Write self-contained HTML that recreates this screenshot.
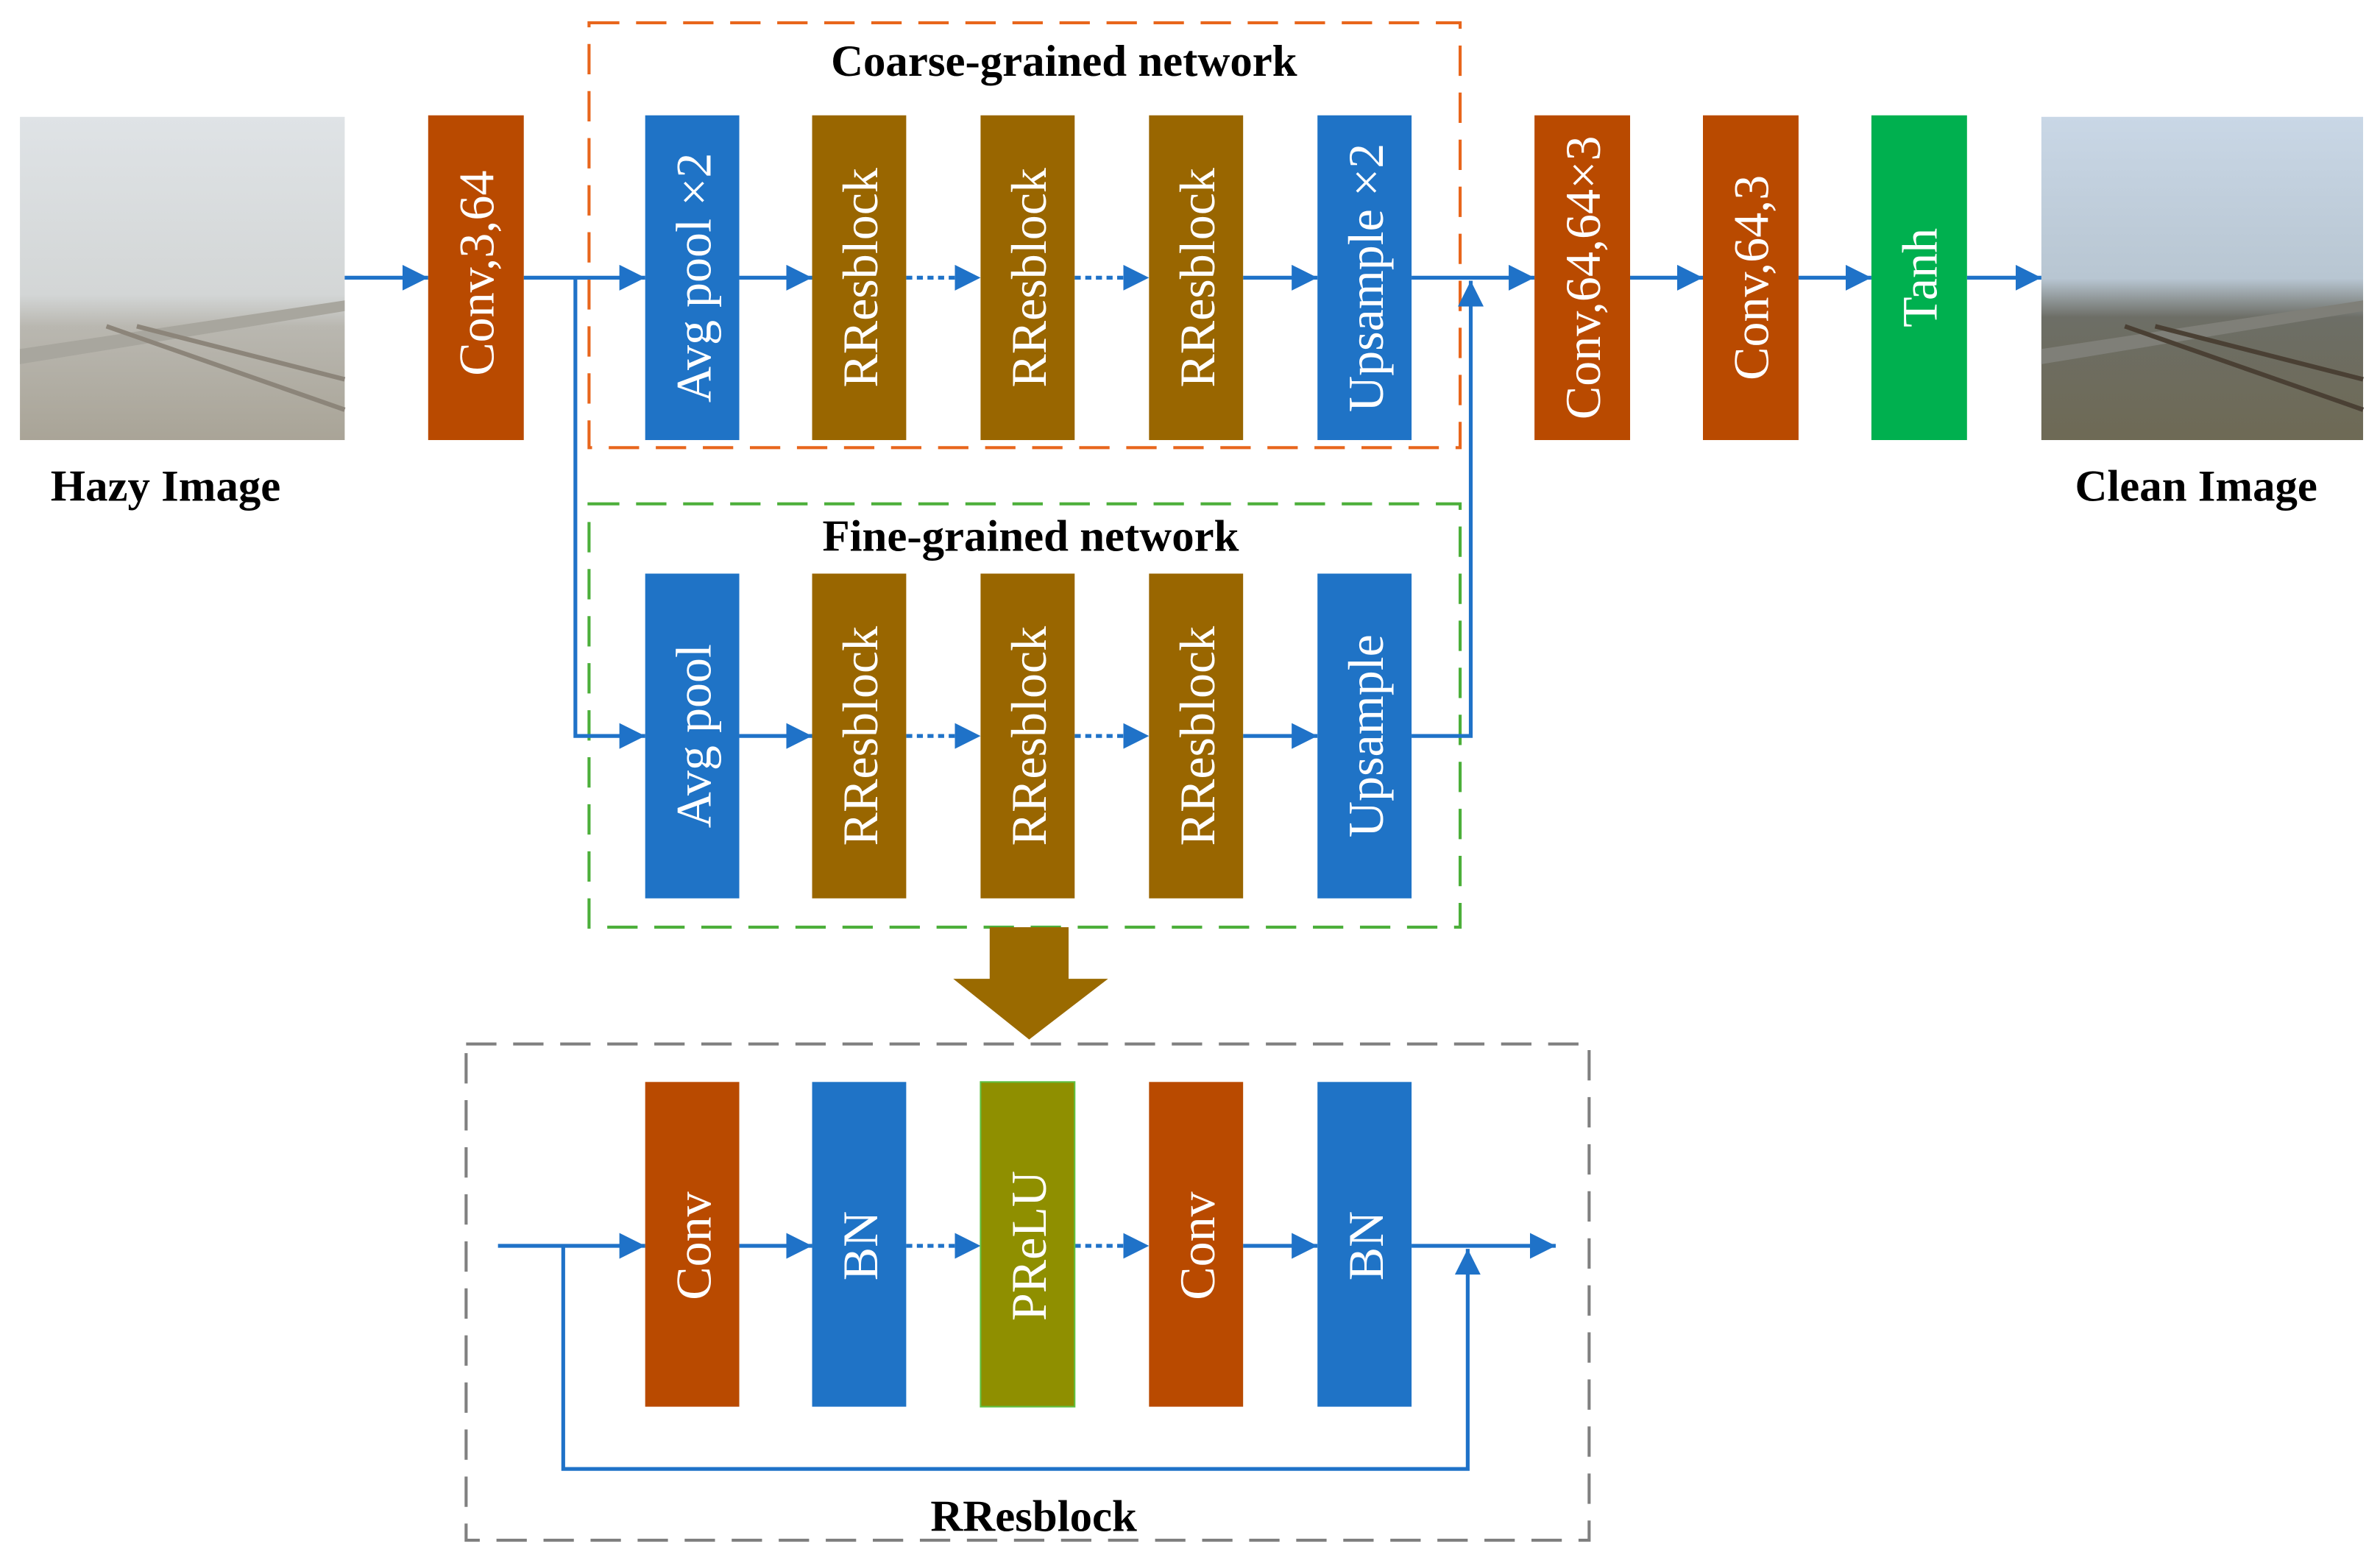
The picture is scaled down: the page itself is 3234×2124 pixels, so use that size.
<!DOCTYPE html>
<html><head><meta charset="utf-8"><style>
html,body{margin:0;padding:0;background:#fff;}
svg{display:block;}
text{font-family:"Liberation Serif",serif;}
.bt{fill:#fff;font-size:33px;}
.lab{fill:#000;font-size:29.5px;font-weight:bold;}
</style></head><body>
<svg width="3234" height="2124" viewBox="0 0 1568 1030" xmlns="http://www.w3.org/2000/svg">
<defs>
<marker id="ah2" viewBox="0 0 10 10" refX="10" refY="5" markerWidth="17" markerHeight="17" markerUnits="userSpaceOnUse" orient="auto">
<path d="M0,0 L10,5 L0,10 z" fill="#1f72c8"/></marker>
<linearGradient id="hz" x1="0" y1="0" x2="0" y2="1">
<stop offset="0" stop-color="#dfe3e6"/><stop offset="0.55" stop-color="#d3d6d6"/><stop offset="0.65" stop-color="#b9b7b0"/><stop offset="1" stop-color="#a9a497"/></linearGradient>
<linearGradient id="cl" x1="0" y1="0" x2="0" y2="1">
<stop offset="0" stop-color="#c9d7e6"/><stop offset="0.5" stop-color="#b8c6d2"/><stop offset="0.62" stop-color="#6d6e66"/><stop offset="1" stop-color="#6e6a55"/></linearGradient>
</defs>

<rect x="13" y="77" width="214" height="213" fill="url(#hz)"/>
<path d="M13,230 L227,198 L227,205 L13,240 z" fill="#a8a69e"/>
<path d="M70,215 L227,270 M90,215 L227,250" stroke="#8c857a" stroke-width="3"/>
<rect x="1345" y="77" width="212" height="213" fill="url(#cl)"/>
<path d="M1345,230 L1557,198 L1557,205 L1345,240 z" fill="#7f7f78"/>
<path d="M1400,215 L1557,270 M1420,215 L1557,250" stroke="#4a4034" stroke-width="3"/>
<text class="lab" x="109" y="330" text-anchor="middle">Hazy Image</text>
<text class="lab" x="1447" y="330" text-anchor="middle">Clean Image</text>

<rect x="388" y="15" width="574" height="280" fill="none" stroke="#e8661c" stroke-width="2" stroke-dasharray="20,11"/>
<rect x="388" y="332" width="574" height="279" fill="none" stroke="#4caf3a" stroke-width="2" stroke-dasharray="20,11"/>
<rect x="307" y="688" width="740" height="327" fill="none" stroke="#808080" stroke-width="2" stroke-dasharray="20,11"/>
<text class="lab" x="701" y="50" text-anchor="middle">Coarse-grained network</text>
<text class="lab" x="679" y="363" text-anchor="middle">Fine-grained network</text>
<text class="lab" x="681" y="1009" text-anchor="middle">RResblock</text>

<g stroke="#1f72c8" stroke-width="2.5" fill="none">
<line x1="227" y1="183" x2="282" y2="183" marker-end="url(#ah2)"/>
<line x1="345" y1="183" x2="425" y2="183" marker-end="url(#ah2)"/>
<polyline points="379,183 379,485 425,485" marker-end="url(#ah2)"/>
<line x1="487" y1="183" x2="535" y2="183" marker-end="url(#ah2)"/>
<line x1="597" y1="183" x2="646" y2="183" stroke-dasharray="4,3" marker-end="url(#ah2)"/>
<line x1="708" y1="183" x2="757" y2="183" stroke-dasharray="4,3" marker-end="url(#ah2)"/>
<line x1="819" y1="183" x2="868" y2="183" marker-end="url(#ah2)"/>
<line x1="930" y1="183" x2="1011" y2="183" marker-end="url(#ah2)"/>
<line x1="1074" y1="183" x2="1122" y2="183" marker-end="url(#ah2)"/>
<line x1="1185" y1="183" x2="1233" y2="183" marker-end="url(#ah2)"/>
<line x1="1296" y1="183" x2="1345" y2="183" marker-end="url(#ah2)"/>
<line x1="487" y1="485" x2="535" y2="485" marker-end="url(#ah2)"/>
<line x1="597" y1="485" x2="646" y2="485" stroke-dasharray="4,3" marker-end="url(#ah2)"/>
<line x1="708" y1="485" x2="757" y2="485" stroke-dasharray="4,3" marker-end="url(#ah2)"/>
<line x1="819" y1="485" x2="868" y2="485" marker-end="url(#ah2)"/>
<polyline points="930,485 969,485 969,185" marker-end="url(#ah2)"/>
<line x1="328" y1="821" x2="425" y2="821" marker-end="url(#ah2)"/>
<line x1="487" y1="821" x2="535" y2="821" marker-end="url(#ah2)"/>
<line x1="597" y1="821" x2="646" y2="821" stroke-dasharray="4,3" marker-end="url(#ah2)"/>
<line x1="708" y1="821" x2="757" y2="821" stroke-dasharray="4,3" marker-end="url(#ah2)"/>
<line x1="819" y1="821" x2="868" y2="821" marker-end="url(#ah2)"/>
<line x1="930" y1="821" x2="1025" y2="821" marker-end="url(#ah2)"/>
<polyline points="371,821 371,968 967,968 967,823" marker-end="url(#ah2)"/>
</g>

<path d="M652,611 L704,611 L704,645 L730,645 L678,685 L628,645 L652,645 z" fill="#9a6a00"/>

<g>
<rect x="282" y="76" width="63" height="214" fill="#b94a00"/>
<rect x="425" y="76" width="62" height="214" fill="#1f73c6"/>
<rect x="535" y="76" width="62" height="214" fill="#996600"/>
<rect x="646" y="76" width="62" height="214" fill="#996600"/>
<rect x="757" y="76" width="62" height="214" fill="#996600"/>
<rect x="868" y="76" width="62" height="214" fill="#1f73c6"/>
<rect x="1011" y="76" width="63" height="214" fill="#b94a00"/>
<rect x="1122" y="76" width="63" height="214" fill="#b94a00"/>
<rect x="1233" y="76" width="63" height="214" fill="#00b04f"/>
<rect x="425" y="378" width="62" height="214" fill="#1f73c6"/>
<rect x="535" y="378" width="62" height="214" fill="#996600"/>
<rect x="646" y="378" width="62" height="214" fill="#996600"/>
<rect x="757" y="378" width="62" height="214" fill="#996600"/>
<rect x="868" y="378" width="62" height="214" fill="#1f73c6"/>
<rect x="425" y="713" width="62" height="214" fill="#b94a00"/>
<rect x="535" y="713" width="62" height="214" fill="#1f73c6"/>
<rect x="646" y="713" width="62" height="214" fill="#8f8f00" stroke="#5fc040" stroke-width="1"/>
<rect x="757" y="713" width="62" height="214" fill="#b94a00"/>
<rect x="868" y="713" width="62" height="214" fill="#1f73c6"/>
</g>

<g text-anchor="middle">
<text class="bt" transform="translate(325,180) rotate(-90)">Conv,3,64</text>
<text class="bt" transform="translate(468,183) rotate(-90)">Avg pool ×2</text>
<text class="bt" transform="translate(578,183) rotate(-90)">RResblock</text>
<text class="bt" transform="translate(689,183) rotate(-90)">RResblock</text>
<text class="bt" transform="translate(800,183) rotate(-90)">RResblock</text>
<text class="bt" transform="translate(911,183) rotate(-90)">Upsample ×2</text>
<text class="bt" transform="translate(1054,183) rotate(-90)">Conv,64,64×3</text>
<text class="bt" transform="translate(1165,183) rotate(-90)">Conv,64,3</text>
<text class="bt" transform="translate(1276,183) rotate(-90)">Tanh</text>
<text class="bt" transform="translate(468,485) rotate(-90)">Avg pool</text>
<text class="bt" transform="translate(578,485) rotate(-90)">RResblock</text>
<text class="bt" transform="translate(689,485) rotate(-90)">RResblock</text>
<text class="bt" transform="translate(800,485) rotate(-90)">RResblock</text>
<text class="bt" transform="translate(911,485) rotate(-90)">Upsample</text>
<text class="bt" transform="translate(468,821) rotate(-90)">Conv</text>
<text class="bt" transform="translate(578,821) rotate(-90)">BN</text>
<text class="bt" transform="translate(689,821) rotate(-90)">PReLU</text>
<text class="bt" transform="translate(800,821) rotate(-90)">Conv</text>
<text class="bt" transform="translate(911,821) rotate(-90)">BN</text>
</g>
</svg>
</body></html>
